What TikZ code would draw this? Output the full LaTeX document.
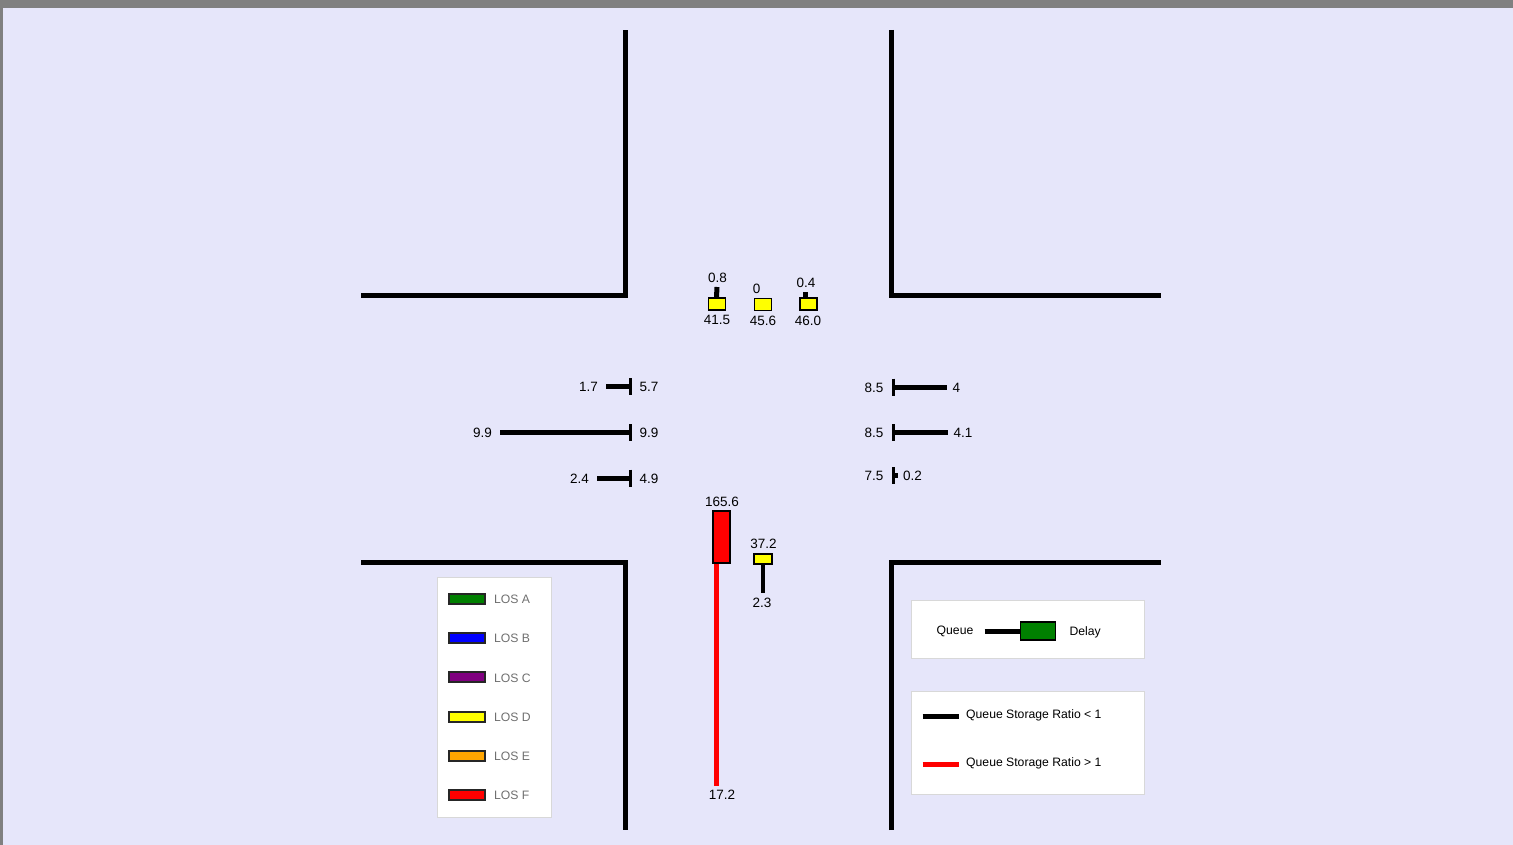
\documentclass[tikz,border=0pt]{standalone}
\usepackage{fontspec}
\setmainfont{Liberation Sans}
\usetikzlibrary{positioning,calc}
\definecolor{frame}{HTML}{808080}
\definecolor{lav}{HTML}{E6E6FA}
\definecolor{losA}{HTML}{008000}
\definecolor{losB}{HTML}{0000FF}
\definecolor{losC}{HTML}{800080}
\definecolor{losD}{HTML}{FFFF00}
\definecolor{losE}{HTML}{FFA500}
\definecolor{losF}{HTML}{FF0000}
\definecolor{legtext}{HTML}{707070}
\definecolor{legline}{HTML}{D8D8D8}
\tikzset{
  curb/.style={line width=5pt},
  delaybox/.style={draw=black, line width=1.6pt, inner sep=0pt, minimum width=17pt, minimum height=12pt},
  queuebar/.style={line width=5pt},
  stopbar/.style={line width=2.6pt},
  val/.style={font=\fontsize{13.5}{15}\selectfont, inner sep=0pt, text height=0.72em, text depth=0pt, yshift=-1.5pt},
  legbox/.style={fill=white, draw=legline, line width=1pt},
  legtxt/.style={font=\fontsize{12.2}{14}\selectfont, inner sep=0pt, text height=0.72em, text depth=0pt, anchor=west, yshift=-1pt},
  swatch/.style={draw=black!85, line width=2pt, inner sep=0pt, minimum width=36pt, minimum height=10pt}
}

\begin{document}
\begin{tikzpicture}[x=1pt, y=-1pt]
        \fill[frame] (0,0) rectangle (1513,845);
        \fill[lav] (3,8) rectangle (1513,845);
        \useasboundingbox (0,0) rectangle (1513,845);

        % curbs
        \draw[curb] (361,295.5) -- (625,295.5) -- (625,30);
        \draw[curb] (891.5,30) -- (891.5,295.5) -- (1161,295.5);
        \draw[curb] (361,562.5) -- (625,562.5) -- (625,830);
        \draw[curb] (891.5,830) -- (891.5,562.5) -- (1161,562.5);

        % southbound
        \node[delaybox, fill=losD] (sL) at (717,304) {};
        \node[delaybox, fill=losD] (sT) at (763,304.5) {};
        \node[delaybox, fill=losD] (sR) at (808.5,304) {};
        \coordinate (sLq) at (717,287);
        \coordinate (sRq) at (805.5,292);
        \draw[queuebar] ($(sL.north)+(-0.5,0)$) -- (sLq);
        \draw[queuebar] ($(sR.north)+(-3,0)$) -- (sRq);
        \node[val] (sLqv) at (717.5,277) {0.8};
        \node[val] (sTqv) at (756.5,288) {0};
        \node[val] (sRqv) at (806,282) {0.4};
        \node[val] (sLd) at (717,319) {41.5};
        \node[val] (sTd) at (763,320) {45.6};
        \node[val] (sRd) at (808,320) {46.0};

        % eastbound
        \foreach \name/\y/\q/\qv/\dv in {eL/386.5/606/1.7/5.7, eT/432.5/500/9.9/9.9, eR/478/597/2.4/4.9} {
          \coordinate (\name s) at (630.5,\y);
          \coordinate (\name q) at (\q,\y);
          \draw[stopbar] ($(\name s)+(0,-8.5)$) -- ($(\name s)+(0,8.5)$);
          \draw[queuebar] (\name s) -- (\name q);
          \node[val, left=8pt of \name q] (\name qv) {\qv};
          \node[val, right=9pt of \name s] (\name dv) {\dv};
        }

        % westbound
        \foreach \name/\y/\q/\qv/\dv in {wL/387/947/8.5/4, wT/432.5/948/8.5/4.1, wR/475.5/897.5/7.5/0.2} {
          \coordinate (\name s) at (893.5,\y);
          \coordinate (\name q) at (\q,\y);
          \draw[stopbar] ($(\name s)+(0,-8.5)$) -- ($(\name s)+(0,8.5)$);
          \draw[queuebar] (\name s) -- (\name q);
          \node[val, left=10pt of \name s] (\name qv) {\qv};
          \node[val, right=5.5pt of \name q] (\name dv) {\dv};
        }

        % northbound
        \node[delaybox, fill=losF, minimum width=17pt, minimum height=52pt] (nL) at (721.5,537) {};
        \node[delaybox, fill=losD, minimum width=18pt, minimum height=10pt] (nT) at (763,559) {};
        \coordinate (nLq) at (716.5,786);
        \coordinate (nTq) at (763,593);
        \draw[queuebar, losF] ($(nL.south)+(-5,0)$) -- (nLq);
        \draw[queuebar, line width=4.5pt] (nT.south) -- (nTq);
        \node[val] (nLd) at (722,501.5) {165.6};
        \node[val] (nTd) at (763.5,543.5) {37.2};
        \node[val] (nTqv) at (762,602) {2.3};
        \node[val] (nLqv) at (722,794) {17.2};

        % LOS legend
        \draw[legbox] (437.5,577.5) rectangle (551,817);
        \foreach \i/\c in {0/A, 1/B, 2/C, 3/D, 4/E, 5/F} {
          \node[swatch, fill=los\c] (sw\c) at (467,599+39.2*\i) {};
          \node[legtxt, text=legtext, right=8pt of sw\c] (lab\c) {LOS \c};
        }

        % queue / delay legend
        \draw[legbox] (911.5,600.5) rectangle (1144,658.5);
        \node[legtxt, anchor=center] (kq) at (955,630) {Queue};
        \node[delaybox, fill=losA, minimum width=35pt, minimum height=18pt] (kd) at (1038,631) {};
        \coordinate (kqe) at (984.5,631);
        \draw[queuebar] (kqe) -- (kd.west);
        \node[legtxt, right=13pt of kd] (kdl) {Delay};

        \draw[legbox] (911.5,691.5) rectangle (1144,794);
        \coordinate (r1a) at (922.5,716);
        \coordinate (r1b) at (958.5,716);
        \coordinate (r2a) at (922.5,764.5);
        \coordinate (r2b) at (958.5,764.5);
        \draw[queuebar] (r1a) -- (r1b);
        \draw[queuebar, losF] (r2a) -- (r2b);
        \node[legtxt] (r1) at (966,714) {Queue Storage Ratio < 1};
        \node[legtxt] (r2) at (966,762) {Queue Storage Ratio > 1};
\end{tikzpicture}
\end{document}
